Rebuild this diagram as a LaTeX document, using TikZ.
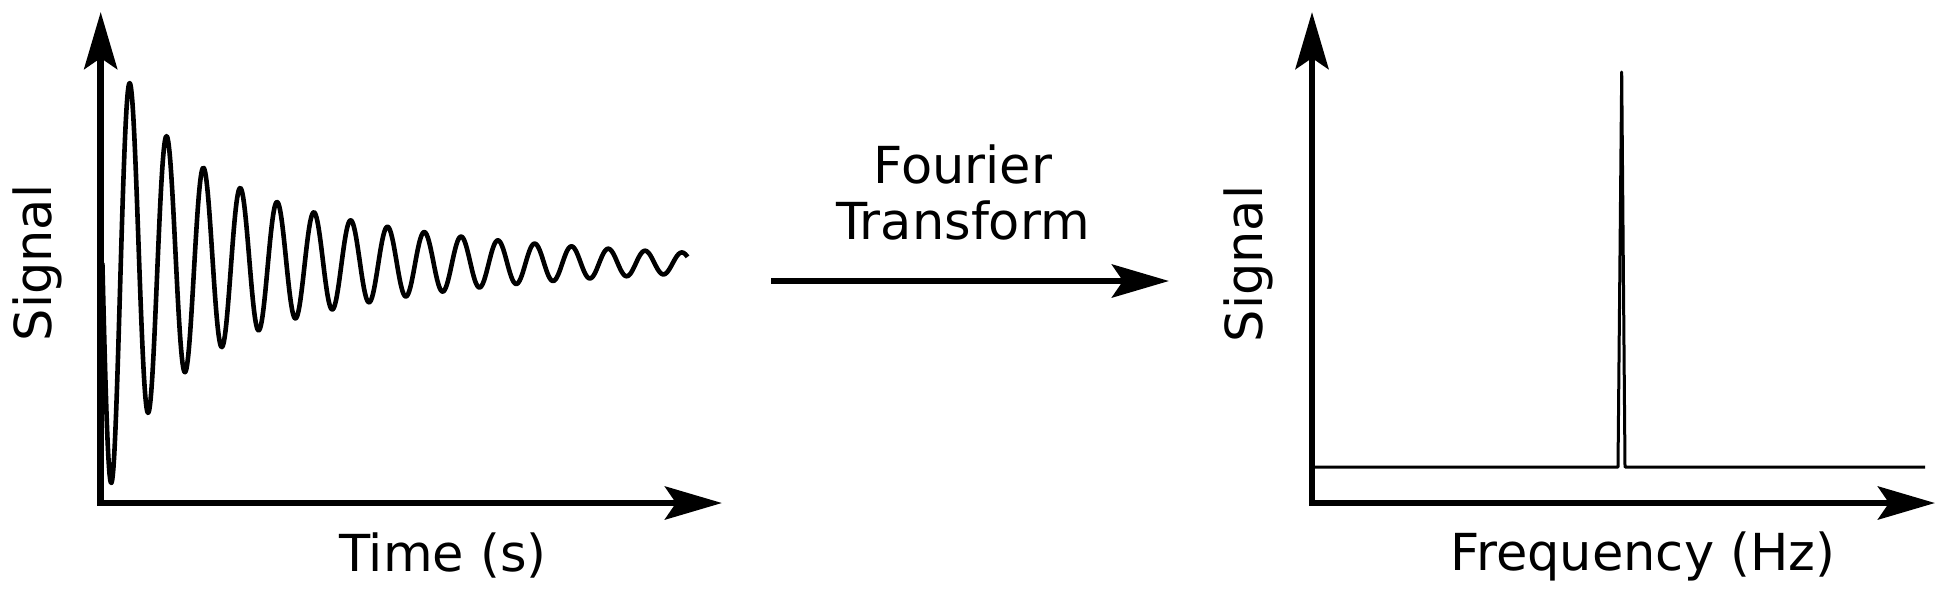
\documentclass[tikz,border=0pt]{standalone}
\usepackage{fontspec}
\setmainfont{DejaVu Sans}
\usetikzlibrary{arrows.meta}
\tikzset{
  axisline/.style={line width=3.35pt, line join=miter,
    arrows={Stealth[length=28.5pt,width=16.5pt,inset=5.5pt]-Stealth[length=28.5pt,width=16.5pt,inset=5.5pt]}},
  ftarrow/.style={line width=3.35pt,
    -{Stealth[length=28.5pt,width=16.5pt,inset=5.5pt]}},
  signalcurve/.style={line width=2.3pt, line join=round},
  spectrum/.style={line width=1.5pt, line join=round},
  lbl/.style={font=\fontsize{25.5}{29}\selectfont, inner sep=0pt},
}
\begin{document}
\begin{tikzpicture}[x=0.5pt,y=-0.5pt]
\useasboundingbox (0,0) rectangle (1949,591);
% left panel
\coordinate (ytipL) at (100.7,12);
\coordinate (origL) at (100.7,503);
\coordinate (xtipL) at (722,503);
\draw[axisline] (ytipL) -- (origL) -- (xtipL);
\draw[signalcurve] plot[domain=-0.25:15.65, samples=900, variable=\t]
  ({111.6+36.8*\t}, {263+(107.6*exp(-\t/1.43)+112*exp(-\t/6.55))*cos(360*\t)});
\node[lbl, rotate=90] (sigL) at (37,263) {Signal};
\node[lbl, anchor=base] (timeL) at (443,571) {Time (s)};
% middle
\coordinate (arrS) at (771,281);
\coordinate (arrE) at (1169,281);
\draw[ftarrow] (arrS) -- (arrE);
\node[lbl, anchor=base] (four) at (963,183) {Fourier};
\node[lbl, anchor=base] (trans) at (963,239) {Transform};
% right panel
\coordinate (ytipR) at (1312,12);
\coordinate (origR) at (1312,503);
\coordinate (xtipR) at (1935,503);
\draw[axisline] (ytipR) -- (origR) -- (xtipR);
\coordinate (b0) at (1313,467);
\coordinate (b1) at (1618,467);
\coordinate (pk) at (1621.7,72);
\coordinate (b2) at (1625,467);
\coordinate (b3) at (1925,467);
\draw[spectrum] (b0) -- (b1) -- (pk) -- (b2) -- (b3);
\node[lbl, rotate=90] (sigR) at (1248,264) {Signal};
\node[lbl, anchor=base] (freq) at (1643,570) {Frequency (Hz)};
\end{tikzpicture}
\end{document}
